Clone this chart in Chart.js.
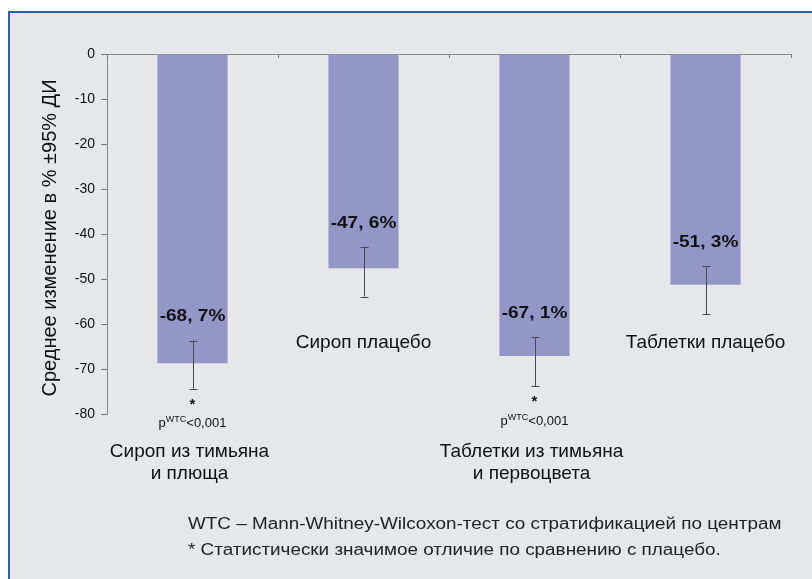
<!DOCTYPE html>
<html>
<head>
<meta charset="utf-8">
<script src="https://cdn.jsdelivr.net/npm/chart.js@4"></script>
<style>
  html, body { margin: 0; padding: 0; background: #fff; }
  #wrap { position: relative; width: 812px; height: 579px; overflow: hidden; }
  #panel {
    position: absolute; left: 8px; top: 11px; right: 0; bottom: 0;
    background: #e6e7e9;
    border-top: 2px solid #2a62b0;
    border-left: 2px solid #2a62b0;
  }
  #chart { position: absolute; left: 0; top: 0; }
</style>
</head>
<body>
<div id="wrap">
  <div id="panel"></div>
  <canvas id="chart" width="812" height="579"></canvas>
</div>
<script>
// chart data
const categories = [
  ['Сироп из тимьяна', 'и плюща'],
  ['Сироп плацебо'],
  ['Таблетки из тимьяна', 'и первоцвета'],
  ['Таблетки плацебо']
];
const isPlacebo = [false, true, false, true];
const meanChange = [-68.7, -47.6, -67.1, -51.3];
const ciUpper = [-63.7, -42.9, -62.9, -47.1];
const ciLower = [-74.4, -53.9, -73.8, -57.8];
const valueLabels = ['-68, 7%', '-47, 6%', '-67, 1%', '-51, 3%'];
const significant = [true, false, true, false];
const yTicks = [0, -10, -20, -30, -40, -50, -60, -70, -80];
const yTitle = 'Среднее изменение в % ±95% ДИ';
const footnotes = [
  'WTC – Mann-Whitney-Wilcoxon-тест со стратификацией по центрам',
  '* Статистически значимое отличие по сравнению с плацебо.'
];

const FONT = '"Liberation Sans", Arial, Helvetica, sans-serif';

// text drawn with a horizontal stretch (the original looks a bit wide)
function stretchText(ctx, text, x, y, sx) {
  ctx.save();
  ctx.translate(x, y);
  ctx.scale(sx, 1);
  ctx.fillText(text, 0, 0);
  ctx.restore();
}

// draws error bars, labels, axis title and footnotes
const annotations = {
  id: 'annotations',
  afterDatasetsDraw(chart) {
    const ctx = chart.ctx;
    const x = chart.scales.x;
    const y = chart.scales.y;
    const area = chart.chartArea;
    ctx.save();

    // tick marks on the top axis (pointing down into the plot)
    ctx.strokeStyle = '#777';
    ctx.lineWidth = 1;
    for (let i = 0; i <= categories.length; i++) {
      const px = Math.round(x.getPixelForValue(i - 0.5)) + 0.5;
      ctx.beginPath();
      ctx.moveTo(px, area.top);
      ctx.lineTo(px, area.top + 4);
      ctx.stroke();
    }

    categories.forEach((cat, i) => {
      const cx = x.getPixelForValue(i);
      const yTop = y.getPixelForValue(ciUpper[i]);
      const yBot = y.getPixelForValue(ciLower[i]);

      // error bar
      ctx.strokeStyle = '#4a4a4a';
      ctx.lineWidth = 1;
      const ex = Math.round(cx) + 0.5;
      ctx.beginPath();
      ctx.moveTo(ex, yTop);
      ctx.lineTo(ex, yBot);
      ctx.moveTo(ex - 4, Math.round(yTop) + 0.5);
      ctx.lineTo(ex + 4, Math.round(yTop) + 0.5);
      ctx.moveTo(ex - 4, Math.round(yBot) + 0.5);
      ctx.lineTo(ex + 4, Math.round(yBot) + 0.5);
      ctx.stroke();

      // value label above the error bar
      ctx.fillStyle = '#111';
      ctx.font = 'bold 17px ' + FONT;
      ctx.textAlign = 'center';
      ctx.textBaseline = 'middle';
      stretchText(ctx, valueLabels[i], cx, yTop - 24, 1.12);

      // significance mark
      if (significant[i]) {
        ctx.font = 'bold 15px ' + FONT;
        ctx.fillText('*', cx, yBot + 16);
        ctx.font = '13px ' + FONT;
        const w1 = ctx.measureText('p').width;
        const w3 = ctx.measureText('<0,001').width;
        ctx.font = '9px ' + FONT;
        const w2 = ctx.measureText('WTC').width;
        const sx = cx - (w1 + w2 + w3) / 2;
        ctx.textAlign = 'left';
        ctx.font = '13px ' + FONT;
        ctx.fillText('p', sx, yBot + 35);
        ctx.font = '9px ' + FONT;
        ctx.fillText('WTC', sx + w1, yBot + 31);
        ctx.font = '13px ' + FONT;
        ctx.fillText('<0,001', sx + w1 + w2, yBot + 35);
      }

      // category label
      ctx.font = '19px ' + FONT;
      ctx.textAlign = 'center';
      ctx.fillStyle = '#111';
      const baseY = isPlacebo[i] ? area.bottom - 71 : area.bottom + 38;
      const lx = cat.length > 1 ? cx - 3 : cx;
      cat.forEach((line, j) => ctx.fillText(line, lx, baseY + j * 22));
    });

    // y axis title
    ctx.save();
    ctx.translate(50, (area.top + area.bottom) / 2 + 4);
    ctx.rotate(-Math.PI / 2);
    ctx.font = '20px ' + FONT;
    ctx.textAlign = 'center';
    ctx.textBaseline = 'middle';
    ctx.fillStyle = '#111';
    ctx.fillText(yTitle, 0, 0);
    ctx.restore();

    // footnotes
    ctx.font = '16px ' + FONT;
    ctx.textAlign = 'left';
    ctx.textBaseline = 'middle';
    ctx.fillStyle = '#222';
    footnotes.forEach((t, j) => stretchText(ctx, t, 188, 525 + j * 26, 1.18));

    ctx.restore();
  }
};

new Chart(document.getElementById('chart'), {
  type: 'bar',
  data: {
    labels: categories.map(c => c.join(' ')),
    datasets: [{
      data: meanChange,
      backgroundColor: '#9596c8',
      borderWidth: 0,
      barPercentage: 0.41,
      categoryPercentage: 1
    }]
  },
  options: {
    responsive: false,
    animation: false,
    layout: { padding: { left: 0, top: 0, right: 21, bottom: 165 } },
    plugins: { legend: { display: false }, tooltip: { enabled: false } },
    scales: {
      x: {
        position: 'top',
        grid: { display: false },
        ticks: { display: false },
        border: { display: true, color: '#888', width: 1 },
        afterFit: s => { s.height = 54; }
      },
      y: {
        min: -80,
        max: 0,
        afterBuildTicks: s => { s.ticks = yTicks.map(v => ({ value: v })); },
        ticks: {
          color: '#111',
          font: { family: FONT, size: 14 },
          padding: 6
        },
        grid: { drawOnChartArea: false, tickLength: 6, color: '#777' },
        border: { display: true, color: '#888', width: 1 },
        afterFit: s => { s.width = 107; }
      }
    }
  },
  plugins: [annotations]
});
</script>
</body>
</html>
